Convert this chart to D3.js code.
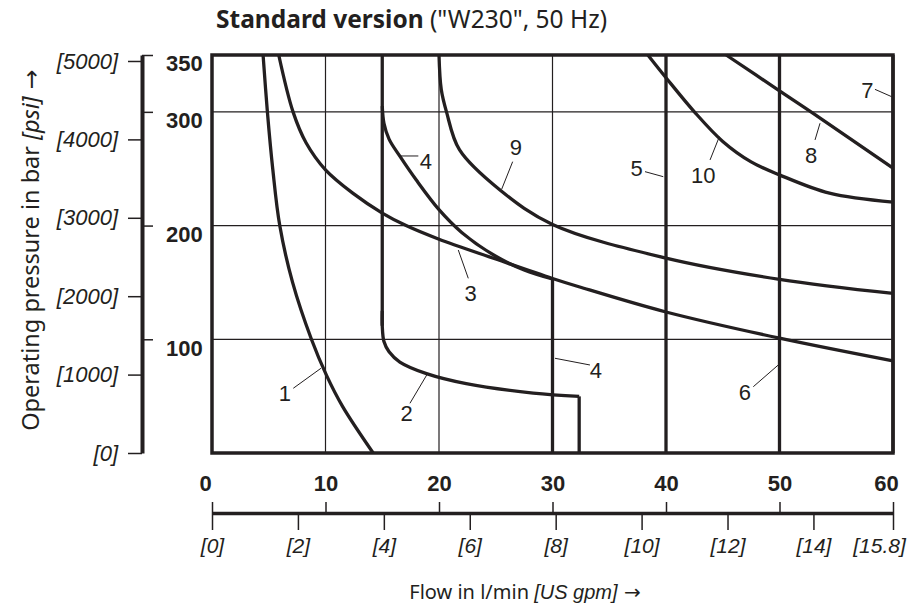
<!DOCTYPE html>
<html>
<head>
<meta charset="utf-8">
<script src="https://cdn.jsdelivr.net/npm/d3@7"></script>
<style>
body { margin: 0; background: #fff; }
</style>
</head>
<body>
<div id="chart"></div>
<script>
// axis ticks
var flowTicks = [0, 10, 20, 30, 40, 50, 60];
var gpmTicks = [0, 2, 4, 6, 8, 10, 12, 14, 60 / 3.785];
var gpmLabels = ["[0]", "[2]", "[4]", "[6]", "[8]", "[10]", "[12]", "[14]", "[15.8]"];
var barTicks = [100, 200, 300, 350];
var psiTicks = [0, 1000, 2000, 3000, 4000, 5000];

// curves: [flow l/min, pressure bar]
var curve1 = [[4.5, 350], [4.88, 300], [5.35, 250], [5.97, 200], [7.1, 150], [8.76, 100], [10.1, 68], [11.5, 41], [14.2, 0]];
var curve2Top = [[15, 350], [15, 112]];
var curve2 = [[15, 125], [15, 112], [15.15, 98], [15.6, 89], [16.55, 80], [18.9, 69.8], [22.4, 61], [28.3, 52.7], [32.35, 49.8]];
var curve2Drop = [[32.35, 49.8], [32.35, 0]];
var curve3 = [[5.88, 350], [7.14, 300], [8.3, 272.6], [10, 249], [12.4, 228.5], [15, 211], [17.1, 200], [20, 188], [25, 170.6], [30, 153.5], [32.4, 146], [40, 124], [50, 101], [60, 81]];
var curve4 = [[15, 305], [15.15, 290], [15.6, 276], [16.55, 261], [18, 240], [20, 214], [22, 194], [25, 173], [27.5, 161], [30, 153]];
var curve4Drop = [[30, 153], [30, 0]];
var curve5 = [[40, 0], [40, 350]];
var curve6 = [[50, 0], [50, 350]];
var curve7 = [[60, 0], [60, 350]];
var curve8 = [[45.3, 350], [50, 318.5], [53, 298.5], [60, 250.5]];
var curve9 = [[20, 350], [20.2, 319.6], [20.66, 300], [21.8, 266.7], [25.4, 231], [30, 201], [40, 171.4], [50, 152.7], [60, 140.3]];
var curve10 = [[38.4, 350], [40, 330], [42.5, 300], [45, 274], [47.5, 256], [50, 244.6], [54.4, 228.5], [60, 220.6]];

// curve numbers: text spot and leader line, in chart units
var noteNames = ["1", "2", "3", "4", "9", "4", "5", "10", "8", "7", "6"];
var noteText = [[6.43, 52.5], [17.15, 34.9], [22.79, 140.4], [18.85, 257], [26.78, 269.4], [33.83, 73], [37.42, 250.4], [43.29, 244.5], [52.78, 262], [57.74, 319.2], [46.96, 53.9]];
var noteLeader = [
    [[7.16, 56.9], [9.6, 74.5]],
    [[17.44, 43.7], [18.92, 68.6]],
    [[22.58, 153.6], [21.7, 178.5]],
    [[18.18, 261.2], [16.56, 261.2]],
    [[26.49, 256.2], [25.52, 231.9]],
    [[33.3, 77.4], [30.22, 83.3]],
    [[38.15, 247.4], [39.76, 243]],
    [[43.88, 257.7], [44.7, 278.2]],
    [[53.13, 275.3], [53.57, 290]],
    [[58.41, 319.8], [59.89, 313.3]],
    [[47.69, 58.3], [49.89, 77.4]]
];

var svgWidth = 924;
var svgHeight = 611;
var margin = {top: 55, right: 31, bottom: 158, left: 212};
var width = svgWidth - margin.left - margin.right;
var height = svgHeight - margin.top - margin.bottom;
var ink = "#231f20";
var numFont = "'Liberation Sans', Arial, sans-serif";

var svg = d3.select("#chart")
    .append("svg")
    .attr("width", svgWidth)
    .attr("height", svgHeight);

var chartGroup = svg.append("g")
    .attr("transform", `translate(${margin.left},${margin.top})`);

var x = d3.scaleLinear().domain([0, 60]).range([0, width]);
var y = d3.scaleLinear().domain([0, 350]).range([height, 0]);
var xGpm = d3.scaleLinear().domain([0, 60 / 3.785]).range([0, width]);
var yPsi = d3.scaleLinear().domain([0, 350 * 14.5038]).range([height, 0]);

// grid
chartGroup.selectAll(".vgrid")
    .data([10, 20, 30, 40, 50])
    .enter().append("line")
    .attr("x1", d => x(d)).attr("x2", d => x(d))
    .attr("y1", 0).attr("y2", height)
    .attr("stroke", ink).attr("stroke-width", 1.2);
chartGroup.selectAll(".hgrid")
    .data([100, 200, 300])
    .enter().append("line")
    .attr("x1", 0).attr("x2", width)
    .attr("y1", d => y(d)).attr("y2", d => y(d))
    .attr("stroke", ink).attr("stroke-width", 1.2);

// curves
var smooth = d3.line().x(d => x(d[0])).y(d => y(d[1])).curve(d3.curveCatmullRom.alpha(0.5));
var straight = d3.line().x(d => x(d[0])).y(d => y(d[1]));

[curve1, curve2, curve3, curve4, curve8, curve9, curve10].forEach(function(c) {
    chartGroup.append("path")
        .attr("d", smooth(c))
        .attr("fill", "none").attr("stroke", ink)
        .attr("stroke-width", 3.3).attr("stroke-linejoin", "round");
});
[curve2Top, curve2Drop, curve4Drop, curve5, curve6, curve7].forEach(function(c) {
    chartGroup.append("path")
        .attr("d", straight(c))
        .attr("fill", "none").attr("stroke", ink)
        .attr("stroke-width", 3.3);
});

// frame
chartGroup.append("rect")
    .attr("x", 0).attr("y", 0)
    .attr("width", width).attr("height", height)
    .attr("fill", "none").attr("stroke", ink).attr("stroke-width", 3.5);

// curve numbers
noteNames.forEach(function(name, i) {
    var l = noteLeader[i];
    chartGroup.append("line")
        .attr("x1", x(l[0][0])).attr("y1", y(l[0][1]))
        .attr("x2", x(l[1][0])).attr("y2", y(l[1][1]))
        .attr("stroke", ink).attr("stroke-width", 1);
    chartGroup.append("text")
        .attr("x", x(noteText[i][0]))
        .attr("y", y(noteText[i][1]))
        .attr("dy", "0.36em")
        .attr("text-anchor", "middle")
        .attr("font-family", numFont)
        .attr("font-size", 22)
        .attr("fill", ink)
        .text(name);
});

// left axes
var leftAxis = svg.append("g").attr("transform", `translate(142,${margin.top})`);
var barAxis = leftAxis.append("g")
    .call(d3.axisRight(y).tickValues(barTicks).tickSize(11).tickPadding(13).tickSizeOuter(0));
barAxis.select(".domain").remove();
barAxis.selectAll("text")
    .attr("dy", "0.72em")
    .attr("font-family", numFont)
    .attr("font-weight", "bold").attr("font-size", 22).attr("fill", ink);
var psiAxis = leftAxis.append("g")
    .call(d3.axisLeft(yPsi).tickValues(psiTicks).tickSize(14).tickPadding(10).tickSizeOuter(0)
        .tickFormat(d => "[" + d + "]"));
psiAxis.select(".domain").attr("stroke", ink).attr("stroke-width", 4);
psiAxis.selectAll("text")
    .attr("font-family", numFont)
    .attr("font-style", "italic").attr("font-size", 22).attr("fill", ink);
leftAxis.selectAll(".tick line").attr("stroke", ink).attr("stroke-width", 1.5);

// bottom axes
var bottomAxis = svg.append("g").attr("transform", `translate(${margin.left},513)`);
var flowAxis = bottomAxis.append("g")
    .call(d3.axisTop(x).tickValues(flowTicks).tickSize(11).tickPadding(11).tickSizeOuter(0));
flowAxis.select(".domain").remove();
flowAxis.selectAll("text")
    .attr("dx", (d, i) => (i === 0 || i === flowTicks.length - 1) ? -7 : 0)
    .attr("font-family", numFont)
    .attr("font-weight", "bold").attr("font-size", 22).attr("fill", ink);
var gpmAxis = bottomAxis.append("g")
    .call(d3.axisBottom(xGpm).tickValues(gpmTicks).tickSize(17).tickPadding(8).tickSizeOuter(0)
        .tickFormat((d, i) => gpmLabels[i]));
gpmAxis.select(".domain").attr("stroke", ink).attr("stroke-width", 3.5);
gpmAxis.selectAll("text")
    .attr("dx", (d, i) => i === gpmTicks.length - 1 ? -14 : 0)
    .attr("font-family", numFont)
    .attr("font-style", "italic").attr("font-size", 21).attr("fill", ink);
bottomAxis.selectAll(".tick line").attr("stroke", ink).attr("stroke-width", 1.5);

// titles
var title = svg.append("text")
    .attr("x", 216).attr("y", 28)
    .attr("font-family", "'Noto Sans', sans-serif")
    .attr("font-size", 24.5).attr("fill", ink);
title.append("tspan").attr("font-weight", "bold").text("Standard version");
title.append("tspan").text(" (\"W230\", 50 Hz)");

var yTitle = svg.append("text")
    .attr("transform", "translate(39,250) rotate(-90)")
    .attr("text-anchor", "middle")
    .attr("font-family", "'Noto Sans', sans-serif")
    .attr("font-size", 23.5).attr("fill", ink);
yTitle.append("tspan").text("Operating pressure in bar ");
yTitle.append("tspan").attr("font-style", "italic").text("[psi]");
yTitle.append("tspan").attr("font-family", "'DejaVu Sans', sans-serif").text(" →");

var xTitle = svg.append("text")
    .attr("x", 525).attr("y", 599)
    .attr("text-anchor", "middle")
    .attr("font-family", "'Noto Sans', sans-serif")
    .attr("font-size", 20).attr("fill", ink);
xTitle.append("tspan").text("Flow in l/min ");
xTitle.append("tspan").attr("font-style", "italic").attr("font-family", "'Liberation Sans Narrow', 'Liberation Sans', sans-serif").text("[US gpm]");
xTitle.append("tspan").attr("font-family", "'DejaVu Sans', sans-serif").text(" →");
</script>
</body>
</html>
